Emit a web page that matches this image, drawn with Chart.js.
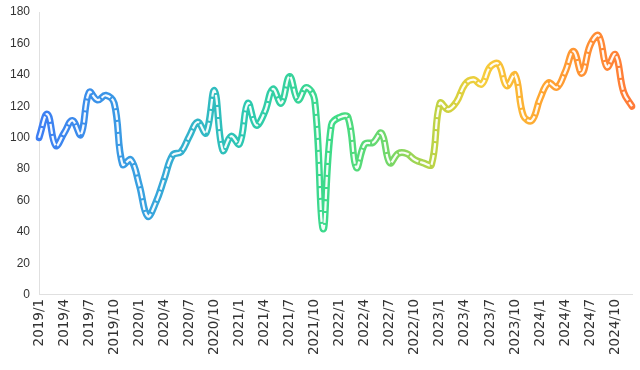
<!DOCTYPE html>
<html>
<head>
<meta charset="utf-8">
<script src="https://cdn.jsdelivr.net/npm/chart.js@4"></script>
<style>
  html, body { margin: 0; padding: 0; background: #fff; }
  #wrap { width: 640px; height: 370px; }
</style>
</head>
<body>
<div id="wrap"><canvas id="chart"></canvas></div>
<script>
// months 2019/1 .. 2024/12
const years = [2019, 2020, 2021, 2022, 2023, 2024];
const months = [1, 2, 3, 4, 5, 6, 7, 8, 9, 10, 11, 12];
const labels = [];
years.forEach(y => months.forEach(m => labels.push(y + "/" + m)));

const values = [
  100, 115, 95, 103, 111, 102, 129, 124, 127, 122, 83, 86,
  70, 50, 59, 74, 89, 91, 101, 110, 103, 130, 92, 101,
  96, 122, 108, 116, 131, 122, 139, 124, 132, 124, 42, 108,
  113, 113, 81, 96, 97, 103, 84, 90, 90, 86, 84, 83,
  122, 118, 123, 134, 137, 134, 145, 147, 133, 140, 114, 111,
  125, 135, 132, 142, 155, 141, 159, 165, 145, 153, 129, 120
];

const yTicks = [0, 20, 40, 60, 80, 100, 120, 140, 160, 180];

// colour stops along the x axis
const gradStops = [
  [0.00, "#3d7ef3"],
  [0.18, "#38a2df"],
  [0.35, "#2cc9b0"],
  [0.50, "#3fdc86"],
  [0.58, "#6cd86c"],
  [0.68, "#c9d23f"],
  [0.75, "#f6cd3b"],
  [0.85, "#ffa531"],
  [1.00, "#ff7a37"]
];

function lineGradient(context) {
  const chart = context.chart;
  const area = chart.chartArea;
  if (!area) return gradStops[0][1];
  const g = chart.ctx.createLinearGradient(area.left, 0, area.right, 0);
  gradStops.forEach(([p, c]) => g.addColorStop(p, c));
  return g;
}

const ctx = document.getElementById("chart").getContext("2d");
new Chart(ctx, {
  type: "line",
  data: {
    labels: labels,
    datasets: [
      {
        // white dashes running inside the thick line
        data: values,
        borderColor: "rgba(255,255,255,0.95)",
        borderWidth: 2.2,
        borderDash: [10, 2],
        tension: 0.4,
        pointRadius: 0,
        order: 0
      },
      {
        data: values,
        borderColor: lineGradient,
        borderWidth: 7,
        tension: 0.4,
        pointRadius: 0,
        borderCapStyle: "round",
        borderJoinStyle: "round",
        order: 1
      }
    ]
  },
  options: {
    responsive: true,
    maintainAspectRatio: false,
    animation: false,
    layout: { padding: { left: 1, right: 8, top: 12, bottom: 11 } },
    plugins: {
      legend: { display: false },
      tooltip: { enabled: false }
    },
    scales: {
      x: {
        offset: false,
        grid: { display: false, drawTicks: false },
        border: { display: true, color: "#e0e0e0", width: 1 },
        // rotated labels would otherwise reserve extra room on the sides
        afterFit: scale => { scale.paddingLeft = 0; scale.paddingRight = 0; },
        ticks: {
          autoSkip: false,
          maxRotation: 90,
          minRotation: 90,
          padding: 4,
          color: "#333",
          font: { family: "DejaVu Sans, sans-serif", size: 13.5 },
          callback: function (val, i) {
            return i % 3 === 0 ? labels[i] : "";
          }
        }
      },
      y: {
        min: 0,
        max: 180,
        afterBuildTicks: axis => { axis.ticks = yTicks.map(v => ({ value: v })); },
        afterFit: scale => { scale.paddingTop = 0; scale.paddingBottom = 0; },
        grid: { display: false, drawTicks: false },
        border: { display: true, color: "#e0e0e0", width: 1 },
        ticks: {
          padding: 9,
          color: "#333",
          font: { family: "Liberation Sans, Arial, sans-serif", size: 12 }
        }
      }
    }
  }
});
</script>
</body>
</html>
